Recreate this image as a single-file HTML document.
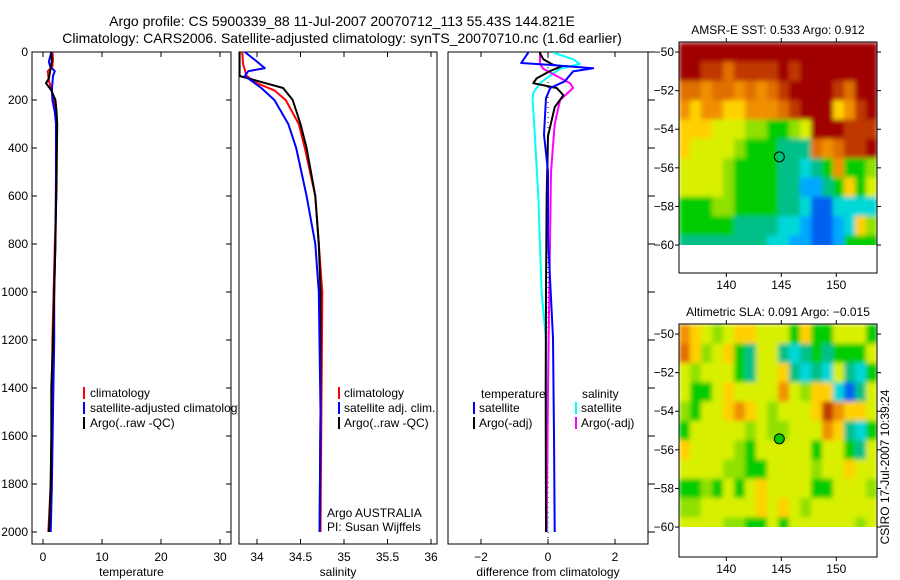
<!DOCTYPE html>
<html><head><meta charset="utf-8"><style>
html,body{margin:0;padding:0;background:#fff;}
svg{display:block;font-family:"Liberation Sans",sans-serif;}
</style></head><body>
<svg id="fig" width="900" height="580" viewBox="0 0 900 580">
<defs><filter id="soft" x="0" y="0" width="1" height="1" filterUnits="objectBoundingBox"><feGaussianBlur stdDeviation="2.5" edgeMode="duplicate"/></filter></defs>
<text x="342" y="26" font-size="14" text-anchor="middle">Argo profile: CS 5900339_88 11-Jul-2007 20070712_113 55.43S 144.821E</text>
<text x="342" y="43" font-size="14" text-anchor="middle">Climatology: CARS2006. Satellite-adjusted climatology: synTS_20070710.nc (1.6d earlier)</text>
<g id="g"></g>
</svg>
<script>
// ---------- data ----------
const depthTicks=[0,200,400,600,800,1000,1200,1400,1600,1800,2000];
const tempTicks=[0,10,20,30];
const salTicks=[34,34.5,35,35.5,36];
const diffTicks=[-2,0,2];
const latTicks=[-50,-52,-54,-56,-58,-60];
const lonTicks=[140,145,150];
// temperature profiles [depth, value]
const tempClimD=[0,30,60,80,100,120,160,200,250,300,400,500,570,800,1000,1200,1500,1800,2000];
const tempClimV=[1.6,1.7,1.6,0.8,0.9,1.0,1.5,1.8,2.1,2.3,2.3,2.3,2.3,2.0,1.8,1.6,1.5,1.3,0.9];
const tempSatD=[0,40,60,80,100,130,160,200,250,300,500,800,1000,1200,1500,1800,2000];
const tempSatV=[1.4,1.0,1.2,2.0,1.7,1.6,1.5,1.6,2.0,2.2,2.2,2.1,1.9,1.9,1.7,1.5,1.3];
const tempArgoD=[0,40,80,110,130,160,200,250,300,500,800,1000,1200,1400,1600,1800,1950,2000];
const tempArgoV=[1.4,1.5,1.2,1.0,0.5,1.4,2.1,2.3,2.4,2.3,2.1,1.9,1.7,1.4,1.4,1.3,1.1,1.0];
// salinity profiles
const salClimD=[0,50,100,130,160,200,300,400,600,800,1000,1500,2000];
const salClimV=[33.83,33.84,33.88,34.0,34.2,34.33,34.48,34.55,34.67,34.71,34.75,34.74,34.73];
const salSatD=[0,40,67,80,100,150,200,300,400,600,800,1000,1500,2000];
const salSatV=[33.86,34.0,34.09,33.9,33.86,34.05,34.2,34.36,34.45,34.57,34.67,34.71,34.73,34.72];
const salArgoD=[0,60,100,120,150,200,300,400,600,800,1000,1500,2000];
const salArgoV=[33.8,33.8,33.8,34.0,34.3,34.41,34.5,34.57,34.67,34.71,34.73,34.73,34.72];
// differences from climatology
const dTempSatD=[0,5,46,53,68,81,122,150,192,344,497,775,1192,1600,2000];
const dTempSatV=[-0.6,-0.6,-0.8,0.0,1.35,0.75,0.5,0.07,-0.06,-0.12,0.0,0.0,0.15,0.18,0.2];
const dTempArgoD=[0,5,30,53,60,80,110,130,150,180,230,350,600,1000,1400,2000];
const dTempArgoV=[-0.24,-0.24,-0.14,0.15,0.4,0.05,-0.34,-0.44,0.26,0.46,0.2,0.0,-0.04,-0.06,-0.07,-0.06];
const dSalSatD=[0,5,30,50,70,100,130,170,200,350,600,1000,1200,1600,2000];
const dSalSatV=[0.2,0.2,0.75,0.95,0.36,0.05,-0.24,-0.44,-0.46,-0.39,-0.29,-0.19,-0.06,-0.05,-0.02];
const dSalArgoD=[0,5,50,70,100,130,150,200,300,500,1000,1400,2000];
const dSalArgoV=[-0.24,-0.24,-0.24,-0.14,0.26,0.66,0.75,0.36,0.2,0.09,0.04,0.0,-0.04];
// map grids (1 deg cells, rows lat -50..-60, cols lon 136.2..153.2), level codes
const sstRows=["CCCCCCCCCCCCCCCCCC","CCBBABBBBCBCCCCCCC","AA9AA9A9ABCCCCBACC","989988999ABCCC89BC","888777665567CCCBBB","877776555444A9ABBC","777765555443459556","777765555442245857","555665555443113333","555554444332112386","444444443322112555"];
const slaRows=["987678877758557775","A86785477434545557","767775477843437435","755787777976883147","6577898767778B9887","577777676677798435","877776577777577547","777766557777677877","556575787777557776","667777787876777777","777766557577777767"];
const argoLon=144.821, argoLat=-55.43;
// ---------- helpers ----------
const NS="http://www.w3.org/2000/svg";
const G=document.getElementById('g');
function mk(tag,attrs,parent){const e=document.createElementNS(NS,tag);for(const k in attrs)e.setAttribute(k,attrs[k]);(parent||G).appendChild(e);return e;}
const pTop=52,pBot=544;
const yD=d=>pTop+d*0.24;
const P1={l:32,r:231,x:v=>43+v*5.9};
const P2={l:239,r:437,x:v=>257+(v-34)*87};
const P3={l:448,r:648,x:v=>548+v*33.5};
function frame(P,name,ticksX,fmt,label){
 const r=mk('rect',{x:P.l,y:pTop,width:P.r-P.l,height:pBot-pTop,fill:'none',stroke:'#000','stroke-width':1});
 
 
 ticksX.forEach(t=>{const x=P.x(t);
  mk('line',{x1:x,y1:pBot,x2:x,y2:pBot-5,stroke:'#000'});
  mk('line',{x1:x,y1:pTop,x2:x,y2:pTop+5,stroke:'#000'});
  const tx=mk('text',{x:x,y:pBot+17,'font-size':12,'text-anchor':'middle'});tx.textContent=fmt(t);
  
  
 });
 const xl=mk('text',{x:(P.l+P.r)/2,y:576,'font-size':12,'text-anchor':'middle'});xl.textContent=label;
 
 
}
function line(P,D,V,color,name){
 const pts=D.map((d,i)=>P.x(V[i]).toFixed(1)+','+yD(d).toFixed(1)).join(' ');
 const p=mk('polyline',{points:pts,fill:'none',stroke:color,'stroke-width':2,'stroke-linejoin':'round'});
 
 
}
function legend(x,y,color,txt,name){
 mk('rect',{x:x,y:y-10,width:2,height:12,fill:color});
 const t=mk('text',{x:x+6,y:y,'font-size':12});t.textContent=txt;
 
 
}
// ---------- panel 1 ----------
frame(P1,'temperature',tempTicks,t=>t,'temperature');
depthTicks.forEach(d=>{const y=yD(d);
 mk('line',{x1:P1.l,y1:y,x2:P1.l+5,y2:y,stroke:'#000'});
 mk('line',{x1:P1.r,y1:y,x2:P1.r-5,y2:y,stroke:'#000'});
 const t=mk('text',{x:P1.l-4,y:y+4,'font-size':12,'text-anchor':'end'});t.textContent=d;
 
 
});
line(P1,tempClimD,tempClimV,'#f00','temp-climatology-line');
line(P1,tempSatD,tempSatV,'#00f','temp-satellite-line');
line(P1,tempArgoD,tempArgoV,'#000','temp-argo-line');
const cp=mk('clipPath',{id:'c1'});mk('rect',{x:32,y:52,width:206,height:492},cp);
const lg1=mk('g',{'clip-path':'url(#c1)'});
[['#f00','climatology',397],['#00f','satellite-adjusted climatology',412],['#000','Argo(..raw -QC)',427]].forEach(a=>{
 mk('rect',{x:83,y:a[2]-10,width:2,height:12,fill:a[0]},lg1);
 const t=mk('text',{x:90,y:a[2],'font-size':12},lg1);t.textContent=a[1];
 
 
});
// ---------- panel 2 ----------
frame(P2,'salinity',salTicks,t=>t,'salinity');
line(P2,salClimD,salClimV,'#f00','sal-climatology-line');
line(P2,salArgoD,salArgoV,'#000','sal-argo-line');
line(P2,salSatD,salSatV,'#00f','sal-satellite-line');
legend(338,397,'#f00','climatology','sal-legend-climatology');
legend(338,412,'#00f','satellite adj. clim.','sal-legend-satellite');
legend(338,427,'#000','Argo(..raw -QC)','sal-legend-argo');
let t1=mk('text',{x:327,y:517,'font-size':12});t1.textContent='Argo AUSTRALIA';


let t2=mk('text',{x:327,y:531,'font-size':12});t2.textContent='PI: Susan Wijffels';


// ---------- panel 3 ----------
frame(P3,'difference',diffTicks,t=>t<0?'\u2212'+(-t):t,'difference from climatology');
depthTicks.forEach(d=>{const y=yD(d);mk('line',{x1:P3.r,y1:y,x2:P3.r+7,y2:y,stroke:'#000'});});
mk('line',{x1:P3.x(0),y1:pTop,x2:P3.x(0),y2:pBot,stroke:'#000','stroke-dasharray':'1,4'});
legend(473,412,'#00f','satellite','diff-legend-temp-satellite');
legend(473,427,'#000','Argo(-adj)','diff-legend-temp-argo');
legend(575,412,'#0ff','satellite','diff-legend-sal-satellite');
legend(575,427,'#f0f','Argo(-adj)','diff-legend-sal-argo');
let t3=mk('text',{x:481,y:398,'font-size':12});t3.textContent='temperature';


let t4=mk('text',{x:582,y:398,'font-size':12});t4.textContent='salinity';


line(P3,dSalSatD,dSalSatV,'#0ff','diff-sal-satellite-line');
line(P3,dSalArgoD,dSalArgoV,'#f0f','diff-sal-argo-line');
line(P3,dTempArgoD,dTempArgoV,'#000','diff-temp-argo-line');
line(P3,dTempSatD,dTempSatV,'#00f','diff-temp-satellite-line');
// ---------- maps ----------
const cmap={'0':'#0000c0','1':'#0060f0','2':'#00a8ff','3':'#00d8d8','4':'#00c088','5':'#00cc00','6':'#90e000','7':'#d8f000','8':'#ffd000','9':'#f09000','A':'#e07000','B':'#c03800','C':'#a00000'};
function map(M,rows,title,name,filled){
 const lx=v=>M.l+(v-135.7)*11, ly=v=>M.t+(-49.48-v)*19.3;
 const clip=mk('clipPath',{id:'clip'+name});mk('rect',{x:M.l,y:M.t,width:198,height:ly(-60)-M.t},clip);
 const outer=mk('g',{'clip-path':'url(#clip'+name+')'});
 const g=mk('g',{filter:'url(#soft)'},outer);
 rows.forEach((row,i)=>{const lat=-50-i;
  for(let j=0;j<row.length;j++){const lon=136.2+j;
   const c=mk('rect',{x:lx(lon-0.5),y:ly(lat+0.5),width:11.6,height:20,fill:cmap[row[j]]},g);
   
   
  }});
 const b=mk('rect',{x:M.l,y:M.t,width:198,height:M.b-M.t,fill:'none',stroke:'#000'});
 
 
 latTicks.forEach(v=>{const y=ly(v);
  mk('line',{x1:M.l-4,y1:y,x2:M.l,y2:y,stroke:'#000'});
  mk('line',{x1:M.l+198,y1:y,x2:M.l+202,y2:y,stroke:'#000'});
  const t=mk('text',{x:M.l-5,y:y+4,'font-size':12,'text-anchor':'end'});t.textContent='\u2212'+(-v);
  
  
 });
 lonTicks.forEach(v=>{const x=lx(v);
  mk('line',{x1:x,y1:M.t-4,x2:x,y2:M.t,stroke:'#000'});
  mk('line',{x1:x,y1:M.b,x2:x,y2:M.b+4,stroke:'#000'});
  const t=mk('text',{x:x,y:M.b+16,'font-size':12,'text-anchor':'middle'});t.textContent=v;
  
  
 });
 const tt=mk('text',{x:M.l+99,y:M.t-8,'font-size':12,'text-anchor':'middle'});tt.textContent=title;
 
 
 const m=mk('circle',{cx:lx(argoLon),cy:ly(argoLat),r:5,fill:filled?'#00cc00':'none',stroke:'#000'});
 
 
}
map({l:679,t:42,b:273},sstRows,'AMSR-E SST: 0.533 Argo: 0.912','sst',false);
map({l:679,t:324,b:557},slaRows,'Altimetric SLA: 0.091 Argo: \u22120.015','sla',true);
const cs=mk('text',{x:0,y:0,'font-size':12,'text-anchor':'middle',transform:'translate(889,467) rotate(-90)'});
cs.textContent='CSIRO 17-Jul-2007 10:39:24';


</script>
</body></html>
